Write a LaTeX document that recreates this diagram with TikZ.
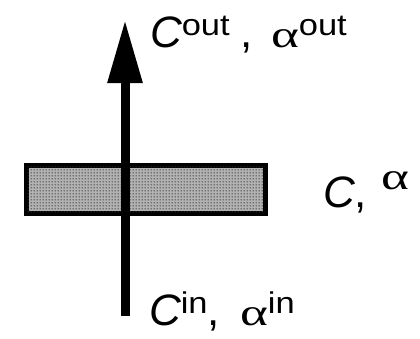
\documentclass[tikz,border=0pt]{standalone}
\usepackage{fontspec}
\setmainfont{Liberation Sans}
\newfontfamily\greekfont{Liberation Serif}
\usetikzlibrary{arrows.meta,patterns.meta}
\pgfdeclarepattern{
  name=slabdots,
  type=uncolored,
  bottom left={\pgfpoint{0pt}{0pt}},
  top right={\pgfpoint{3pt}{3pt}},
  tile size={\pgfpoint{3pt}{3pt}},
  code={\pgfpathcircle{\pgfpoint{1.5pt}{1.5pt}}{0.9pt}\pgfusepath{fill}}
}
\newcommand{\bigC}{{\fontsize{44}{50}\selectfont\itshape C}}
\newcommand{\supx}[1]{\raisebox{12pt}{\scalebox{1.15}[1]{\fontsize{30}{30}\selectfont #1}}}
\newcommand{\galpha}{\scalebox{1.4}[1]{\greekfont\fontsize{38}{44}\selectfont α}}
\newcommand{\bcomma}{{\fontsize{44}{50}\selectfont ,}}
\tikzset{
  lbl/.style={anchor=base west, inner sep=0pt, outer sep=0pt},
  layer/.style={draw=black, line width=5pt, fill=black!30, postaction={pattern=slabdots, pattern color=black!80}},
  flow/.style={line width=9pt, -{Triangle[length=63pt,width=33pt]}}
}
\begin{document}
\begin{tikzpicture}[x=1pt,y=-1pt]
\useasboundingbox (0,0) rectangle (420,338);
\node[layer, minimum width=239pt, minimum height=48pt, inner sep=0pt, anchor=north west] (slab) at (23.5,162.5) {};
\coordinate (in) at (125,316);
\coordinate (out) at (125,20);
\draw[flow] (in) -- (out);
\node[lbl] (cout) at (150,47) {\bigC\supx{out}};
\node[lbl] (comma1) at (240,47) {\bcomma};
\node[lbl] (aout) at (271,47) {\galpha\supx{out}};
\node[lbl] (cmid) at (323,207) {\bigC\bcomma};
\node[lbl] (amid) at (381,189) {\galpha};
\node[lbl] (cin) at (149,325) {\bigC\supx{in}\bcomma};
\node[lbl] (ain) at (240,325) {\galpha\supx{in}};
\end{tikzpicture}
\end{document}
